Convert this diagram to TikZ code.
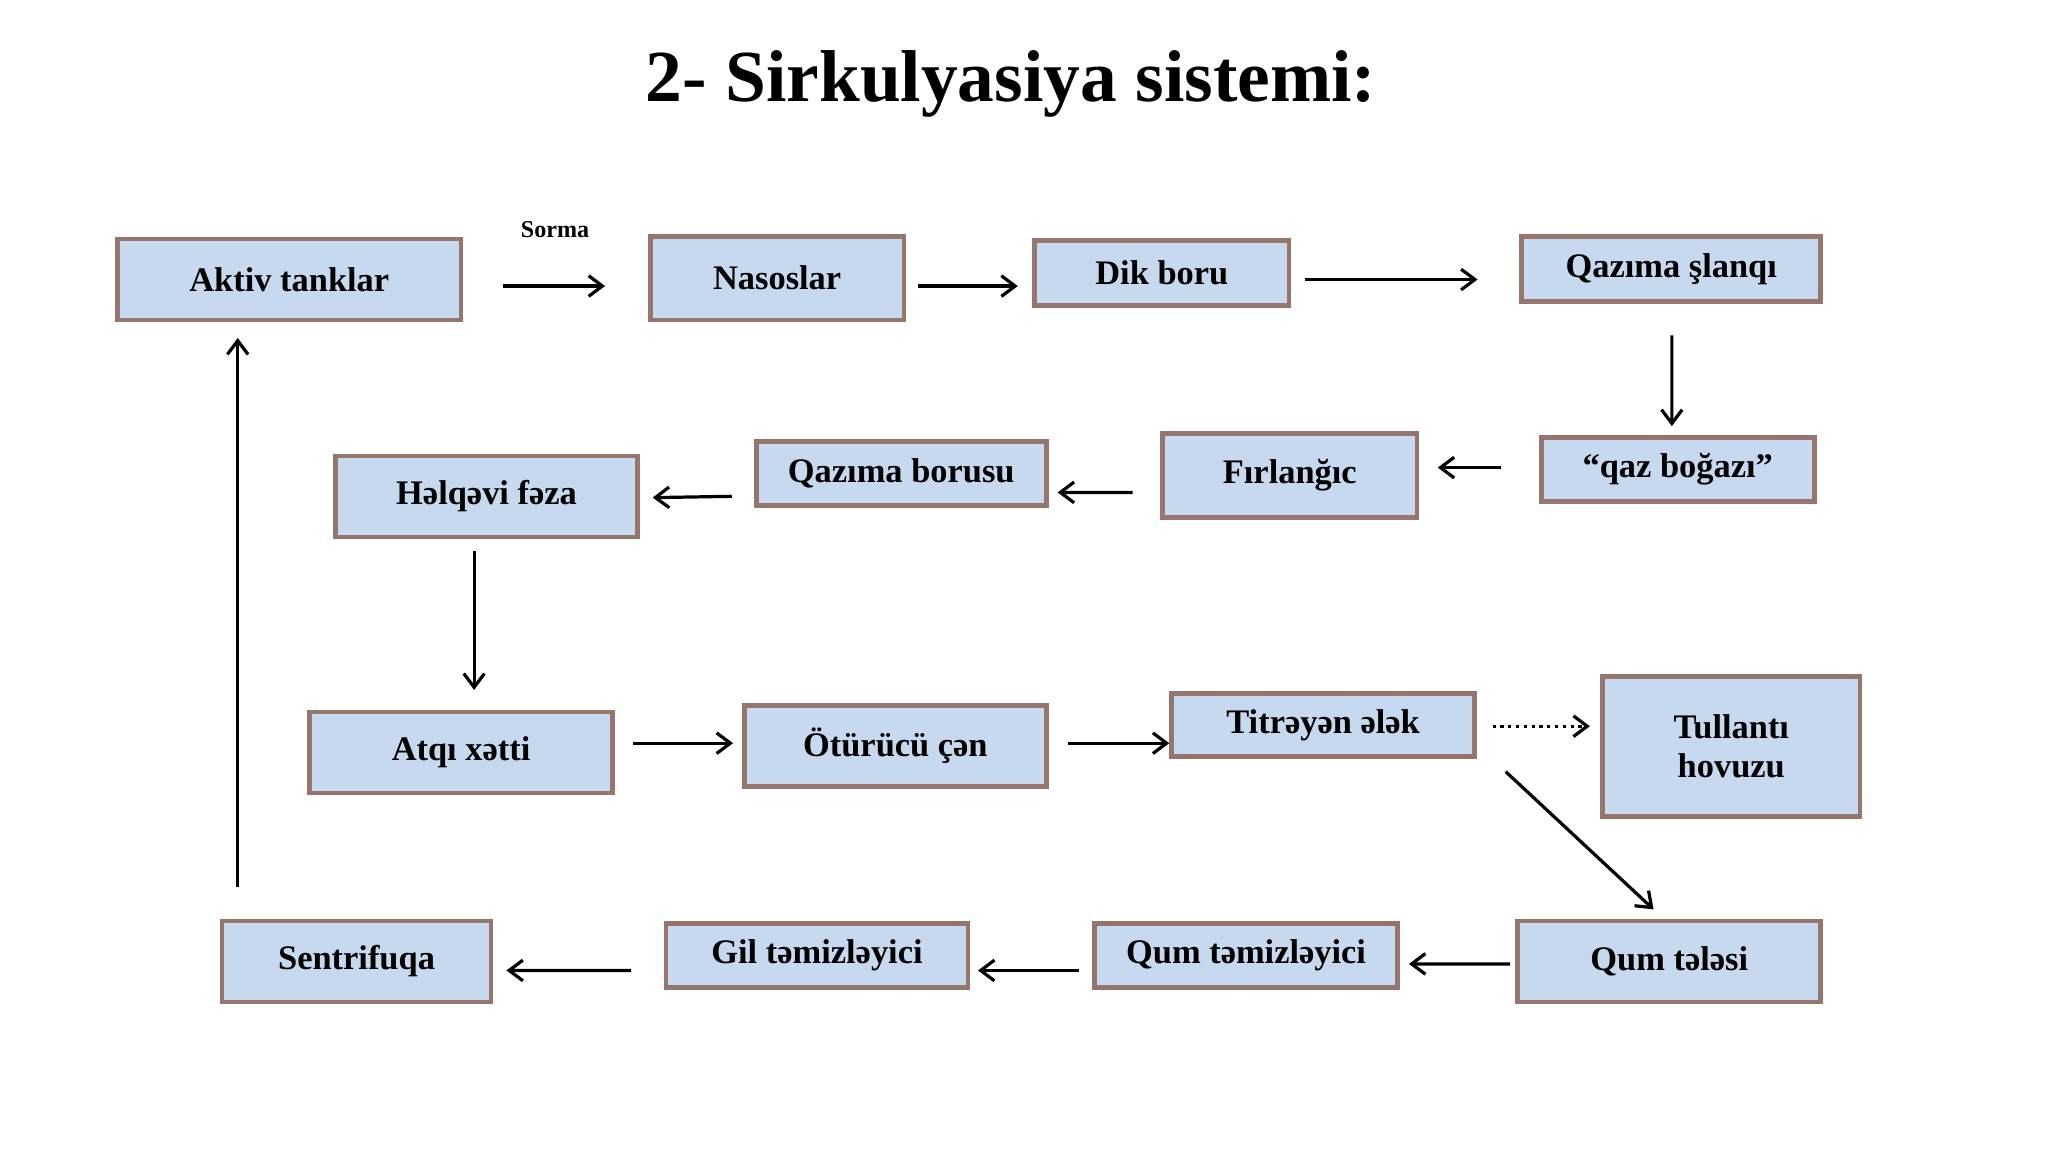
\documentclass[tikz,border=0pt]{standalone}
\usepackage{fontspec}
\setmainfont{Liberation Serif}
\usetikzlibrary{arrows.meta,calc}
\definecolor{boxfill}{RGB}{198,217,238}
\definecolor{boxedge}{RGB}{150,118,108}
\tikzset{
 box/.style={draw=boxedge,fill=boxfill,line width=2pt,font=\fontsize{15}{17}\selectfont\bfseries,align=center,inner sep=0pt},
 arr/.style={line width=1.4pt,-{Straight Barb[length=6pt,width=9pt]}},
}
\begin{document}
\begin{tikzpicture}[x=0.02cm,y=-0.02cm]
\useasboundingbox (0,0) rectangle (1568,882);
\node[font=\fontsize{32}{36}\selectfont\bfseries] (title) at (774,64) {2- Sirkulyasiya sistemi:};
\newcommand{\bx}[6]{\node[box,minimum width={(#4-#2)*0.02cm},minimum height={(#5-#3)*0.02cm}] (#1) at ({(#2+#4)/2},{(#3+#5)/2}) {#6};}
\bx{A}{90}{183}{353}{245}{Aktiv tanklar}
\bx{N}{498}{181}{692}{245}{Nasoslar}
\bx{D}{792}{184}{987}{234}{Dik boru}
\bx{Qs}{1165}{181}{1394}{231}{Qazıma şlanqı}
\bx{qaz}{1180}{335}{1389}{384}{“qaz boğazı”}
\bx{F}{890}{332}{1085}{396}{Fırlanğıc}
\bx{QB}{579}{338}{801}{387}{Qazıma borusu}
\bx{H}{257}{349}{488}{411}{Həlqəvi fəza}
\bx{At}{237}{545}{469}{607}{Atqı xətti}
\bx{O}{570}{540}{801}{602}{Ötürücü çən}
\bx{T}{897}{531}{1129}{579}{Titrəyən ələk}
\bx{Tul}{1227}{518}{1424}{625}{Tullantı\\hovuzu}
\bx{QT}{1162}{705}{1394}{767}{Qum tələsi}
\bx{Qm}{838}{707}{1070}{756}{Qum təmizləyici}
\bx{G}{510}{707}{741}{756}{Gil təmizləyici}
\bx{S}{170}{705}{376}{767}{Sentrifuqa}
\node[font=\fontsize{10.5}{12}\selectfont\bfseries] (sorma) at (425,176) {Sorma};
\draw[arr] ($(A.east)+(30,5)$) -- ($(N.west)+(-33,6)$);
\draw[arr] ($(N.east)+(9,6)$) -- ($(D.west)+(-11,10)$);
\draw[arr] ($(D.east)+(10,5)$) -- ($(Qs.west)+(-32,8)$);
\draw[arr] ($(Qs.south)+(0.5,24)$) -- ($(qaz.north)+(-4.5,-7)$);
\draw[arr] ($(qaz.west)+(-29,-1.5)$) -- ($(F.east)+(14,-6)$);
\draw[arr] ($(F.west)+(-21,13)$) -- ($(QB.east)+(7,14.5)$);
\draw[arr] ($(QB.west)+(-17,17.5)$) -- ($(H.east)+(10,1)$);
\draw[arr] ($(H.south)+(-9.5,9)$) -- ($(At.north)+(10,-15)$);
\draw[arr] ($(At.east)+(14,-7)$) -- ($(O.west)+(-7,-2)$);
\draw[arr] ($(O.east)+(15,-2)$) -- ($(T.west)+(0,14)$);
\draw[arr,dotted] ($(T.east)+(12,1)$) -- ($(Tul.west)+(-8,-15.5)$);
\draw[arr] ($(T.south east)+(22,10)$) -- ($(QT.north)+(-12,-7)$);
\draw[arr] ($(QT.west)+(-4,2)$) -- ($(Qm.east)+(7,6.5)$);
\draw[arr] ($(Qm.west)+(-10,11.5)$) -- ($(G.east)+(6,11.5)$);
\draw[arr] ($(G.west)+(-25,11.5)$) -- ($(S.east)+(10,7)$);
\draw[arr] ($(S.north)+(-91,-24)$) -- ($(A.south)+(-39.5,12)$);
\end{tikzpicture}
\end{document}
